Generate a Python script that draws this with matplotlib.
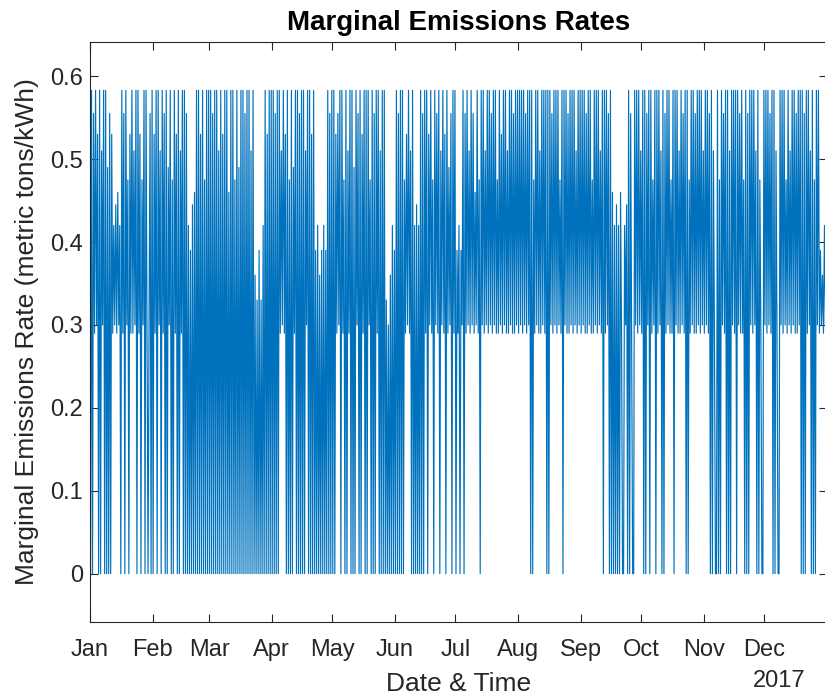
import numpy as np
import matplotlib.pyplot as plt

# hourly marginal emissions at two samples per day
# code letters -> rate (metric tons/kWh)
level_codes = "z012345d6c7b8a9"
level_values = [0.0, 0.29, 0.30, 0.33, 0.36, 0.39, 0.42, 0.445, 0.46,
                0.475, 0.49, 0.51, 0.53, 0.555, 0.583]

months = ["Jan", "Feb", "Mar", "Apr", "May", "Jun",
          "Jul", "Aug", "Sep", "Oct", "Nov", "Dec"]
days_in_month = [31, 28, 31, 30, 31, 30, 31, 31, 30, 31, 30, 31]

jan = "z9 za 09 18 z9 zb 19 z9 z7 za z8 05 1d 06 15 z9 0a z9 1c z8 09 0b 19 z9 08 zc 19 z9 0z 1a z9"
feb = "z8 09 z9 1b z9 0a z9 z7 19 zc z9 08 z9 zb 09 z9 za z5 z4 zd z6 z9 z9 z8 z9 zc z9 z9"
mar = "z9 za z9 z9 zb z9 z8 z9 z9 z6 z9 z9 zc z9 z7 z9 z9 za z9 z9 zb z9 z3 z2 z4 z2 z5 z9 z8 z9 z9"
apr = "z9 za z9 z9 0b 19 08 z9 zc z9 z7 09 z9 za z9 z9 zb 19 z9 z8 z9 z4 z5 z3 z4 z5 z4 z9 za z9"
may = "z9 z8 0a 19 z9 0c z9 zb 09 z9 z7 z9 1a z9 z8 09 z9 z9 1c z9 za z9 09 zb z9 z9 z2 z1 z3 z5 z4"
jun = "z9 za z9 z9 zc 08 19 0b z9 z5 zd z5 z9 za z9 09 z8 19 0c z9 1a 09 zb 19 08 z9 07 1a z9 09"
jul = "z4 05 z4 19 za 09 1b 09 1a 06 19 0c z9 19 0b 19 09 1a 09 19 0c 09 18 09 19 0b 09 19 0a 09 19"
aug = "09 19 09 1a 09 19 z9 zc 09 19 0b 09 19 09 z9 z9 1a 09 19 09 1c 09 z9 19 0a 09 19 09 1b 09 19"
sep = "09 19 0a 09 19 0c 09 19 09 1b 09 z9 09 1a z9 z6 z5 zd z5 z6 0z z5 1d z9 za 0z z9 19 09 1b"
oct_ = "09 z9 za 19 z9 0c 19 z9 09 1b z9 za 09 19 0c 09 z9 19 0b 09 1a 09 z9 zc 09 19 0a 09 19 09 1b"
nov = "09 19 0a z9 zb 0z z9 zc z9 1a 09 z9 zb z9 19 09 z9 1a 09 0c z9 za z9 19 09 1b z9 zc 0z z9"
dec = "19 09 1a 09 z9 zb 0z z9 19 09 1c 09 1b 09 19 0a 09 19 z9 za z9 09 1b z9 zc z9 19 04 13 05 1d"

month_codes = [jan, feb, mar, apr, may, jun, jul, aug, sep, oct_, nov, dec]

month_starts = np.concatenate([[0], np.cumsum(days_in_month)[:-1]])

t = []
rate = []
for start, ndays, codes in zip(month_starts, days_in_month, month_codes):
    codes = codes.replace(" ", "")
    n = len(codes)
    for i, c in enumerate(codes):
        t.append(start + (i + 0.5) * ndays / n)
        rate.append(level_values[level_codes.index(c)])

fig = plt.figure(figsize=(8.25, 6.97), dpi=100)
ax = fig.add_axes([90 / 825, 1 - 622 / 697, 737 / 825, 580 / 697])

ax.plot(t, rate, color="#0072BD", linewidth=0.85)

ax.set_xlim(0, 365)
ax.set_ylim(-0.0583, 0.6413)
ax.set_xticks(month_starts)
ax.set_xticklabels(months, family="Liberation Sans", fontsize=17)
ax.set_yticks(np.arange(0, 0.61, 0.1))
ax.set_yticklabels(["0", "0.1", "0.2", "0.3", "0.4", "0.5", "0.6"],
                   family="Liberation Sans", fontsize=17)

ax.tick_params(direction="in", length=6, width=0.8, colors="#262626",
               top=True, right=True)
ax.tick_params(axis="x", pad=12)
ax.tick_params(axis="y", pad=5)
for s in ax.spines.values():
    s.set_color("#262626")
    s.set_linewidth(0.8)

ax.set_title("Marginal Emissions Rates", fontsize=20, fontweight="bold",
             family="Liberation Sans", pad=9)
ax.set_xlabel("Date & Time", fontsize=19, family="Liberation Sans",
              color="#262626", labelpad=8)
ax.set_ylabel("Marginal Emissions Rate (metric tons/kWh)", fontsize=19,
              family="Liberation Sans", color="#262626", labelpad=8)
ax.text((805 - 90) / 737, -0.083, "2017", transform=ax.transAxes, fontsize=17,
        family="Liberation Sans", color="#262626", ha="right", va="top")

fig.savefig("out.png", dpi=100)
